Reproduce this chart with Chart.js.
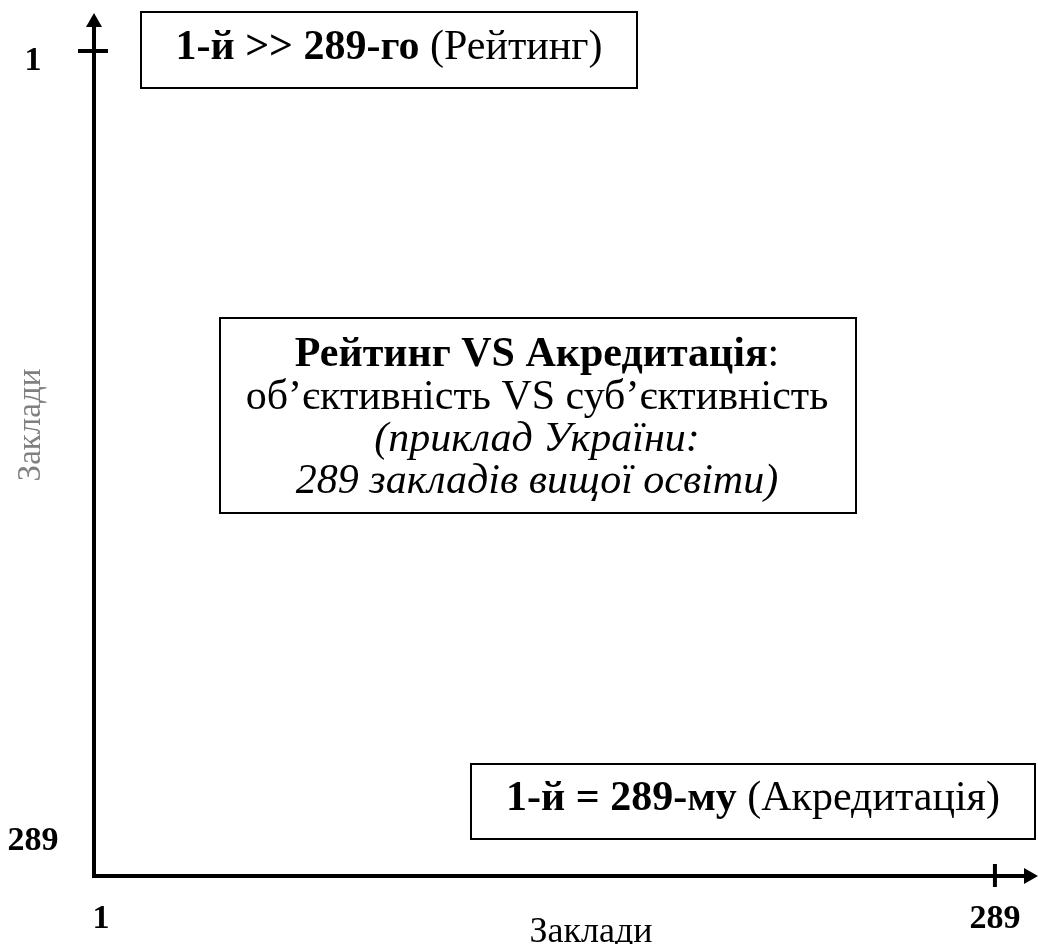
<!DOCTYPE html>
<html lang="uk">
<head>
<meta charset="utf-8">
<title>Рейтинг VS Акредитація</title>
<script src="https://cdn.jsdelivr.net/npm/chart.js@4"></script>
<style>
  html, body { margin: 0; padding: 0; background: #fff; }
  #wrap { width: 1038px; height: 944px; position: relative; }
</style>
</head>
<body>
<div id="wrap"><canvas id="scheme"></canvas></div>
<script>
// ===== дані схеми =====
const axisTickValues = [1, 289];
const xTickLabels = ['1', '289'];
const yTickLabels = ['1', '289'];
const xMarkedTicks = [289];   // риска на осі X
const yMarkedTicks = [1];     // риска на осі Y
const xAxisTitle = 'Заклади';
const yAxisTitle = 'Заклади';

// текст у рамках: [фрагмент, стиль] (b - жирний, r - звичайний, i - курсив)
const topBoxRuns = [['1-й >> 289-го', 'b'], [' (Рейтинг)', 'r']];
const centerBoxLines = [
  [['Рейтинг VS Акредитація', 'b'], [':', 'r']],
  [['об’єктивність VS суб’єктивність', 'r']],
  [['(приклад України:', 'i']],
  [['289 закладів вищої освіти)', 'i']]
];
const bottomBoxRuns = [['1-й = 289-му', 'b'], [' (Акредитація)', 'r']];

// ===== допоміжне =====
const SERIF = '"Liberation Serif", "Times New Roman", serif';
const BOX_FONT = 42;

function fontFor(style, size) {
  if (style === 'b') return 'bold ' + size + 'px ' + SERIF;
  if (style === 'i') return 'italic ' + size + 'px ' + SERIF;
  return size + 'px ' + SERIF;
}

function drawRuns(ctx, runs, cx, baseline, size) {
  let total = 0;
  runs.forEach(r => { ctx.font = fontFor(r[1], size); total += ctx.measureText(r[0]).width; });
  let x = cx - total / 2;
  ctx.textAlign = 'left';
  ctx.textBaseline = 'alphabetic';
  runs.forEach(r => {
    ctx.font = fontFor(r[1], size);
    ctx.fillText(r[0], x, baseline);
    x += ctx.measureText(r[0]).width;
  });
}

function drawBox(ctx, left, top, right, bottom) {
  ctx.lineWidth = 2;
  ctx.strokeStyle = '#000';
  ctx.strokeRect(left, top, right - left, bottom - top);
}

// стрілки, риски, назви осей і рамки з текстом
const schemeDecor = {
  id: 'schemeDecor',
  beforeDraw(chart) {
    const ctx = chart.ctx;
    ctx.save();
    ctx.fillStyle = '#fff';
    ctx.fillRect(0, 0, chart.width, chart.height);
    ctx.restore();
  },
  afterDraw(chart) {
    const { ctx, chartArea: a, scales: { x, y } } = chart;
    ctx.save();
    ctx.fillStyle = '#000';
    ctx.strokeStyle = '#000';

    // стрілка осі Y
    ctx.beginPath();
    ctx.moveTo(a.left, a.top - 7);
    ctx.lineTo(a.left - 8, a.top + 7);
    ctx.lineTo(a.left + 8, a.top + 7);
    ctx.closePath();
    ctx.fill();

    // стрілка осі X
    ctx.beginPath();
    ctx.moveTo(a.right + 8, a.bottom);
    ctx.lineTo(a.right - 6, a.bottom - 8);
    ctx.lineTo(a.right - 6, a.bottom + 8);
    ctx.closePath();
    ctx.fill();

    // риски
    ctx.lineWidth = 4;
    yMarkedTicks.forEach(v => {
      const py = y.getPixelForValue(v);
      ctx.beginPath();
      ctx.moveTo(a.left - 16, py);
      ctx.lineTo(a.left + 14, py);
      ctx.stroke();
    });
    xMarkedTicks.forEach(v => {
      const px = x.getPixelForValue(v);
      ctx.beginPath();
      ctx.moveTo(px, a.bottom - 12);
      ctx.lineTo(px, a.bottom + 11);
      ctx.stroke();
    });

    // назви осей
    ctx.textAlign = 'center';
    ctx.textBaseline = 'alphabetic';
    ctx.font = fontFor('r', 36);
    ctx.fillStyle = '#000';
    ctx.fillText(xAxisTitle, 591, 942);

    ctx.save();
    ctx.translate(40, 425);
    ctx.rotate(-Math.PI / 2);
    ctx.font = fontFor('r', 33);
    ctx.fillStyle = '#808080';
    ctx.fillText(yAxisTitle, 0, 0);
    ctx.restore();

    // рамки
    ctx.fillStyle = '#000';
    drawBox(ctx, 141, 12, 637, 88);
    drawRuns(ctx, topBoxRuns, 389, 59, BOX_FONT);

    drawBox(ctx, 220, 318, 856, 513);
    const baselines = [366, 409, 451, 493];
    centerBoxLines.forEach((line, i) => drawRuns(ctx, line, 537, baselines[i], BOX_FONT));

    drawBox(ctx, 471, 764, 1035, 839);
    drawRuns(ctx, bottomBoxRuns, 753, 810, BOX_FONT);

    ctx.restore();
  }
};

const tickFont = { family: SERIF, size: 34, weight: 'bold' };

new Chart(document.getElementById('scheme'), {
  type: 'scatter',
  data: {
    datasets: [{ label: 'Заклади', data: [], showLine: false }]
  },
  options: {
    responsive: true,
    maintainAspectRatio: false,
    animation: false,
    layout: { padding: { top: 20, right: 8, left: 0, bottom: 0 } },
    plugins: {
      legend: { display: false },
      tooltip: { enabled: false }
    },
    scales: {
      x: {
        type: 'linear',
        position: 'bottom',
        min: -1.26,
        max: 300.3,
        afterBuildTicks: s => { s.ticks = axisTickValues.map(v => ({ value: v })); },
        afterFit: s => {
          s.height = 68;
          s.paddingLeft = 0;
          s.paddingRight = 0;
        },
        ticks: {
          callback: (v, i) => xTickLabels[i],
          font: tickFont,
          color: '#000',
          padding: 23,
          maxRotation: 0,
          autoSkip: false
        },
        grid: { display: false, drawTicks: false },
        border: { display: true, color: '#000', width: 4 }
      },
      y: {
        type: 'linear',
        position: 'left',
        reverse: true,
        min: -10.45,
        max: 305.6,
        afterBuildTicks: s => { s.ticks = axisTickValues.map(v => ({ value: v })); },
        afterFit: s => {
          s.width = 94;
          s.paddingTop = 0;
          s.paddingBottom = 0;
        },
        ticks: {
          callback: (v, i) => yTickLabels[i],
          font: tickFont,
          color: '#000',
          padding: 35.5,
          crossAlign: 'center',
          labelOffset: 10,
          autoSkip: false
        },
        grid: { display: false, drawTicks: false },
        border: { display: true, color: '#000', width: 4 }
      }
    }
  },
  plugins: [schemeDecor]
});
</script>
</body>
</html>
